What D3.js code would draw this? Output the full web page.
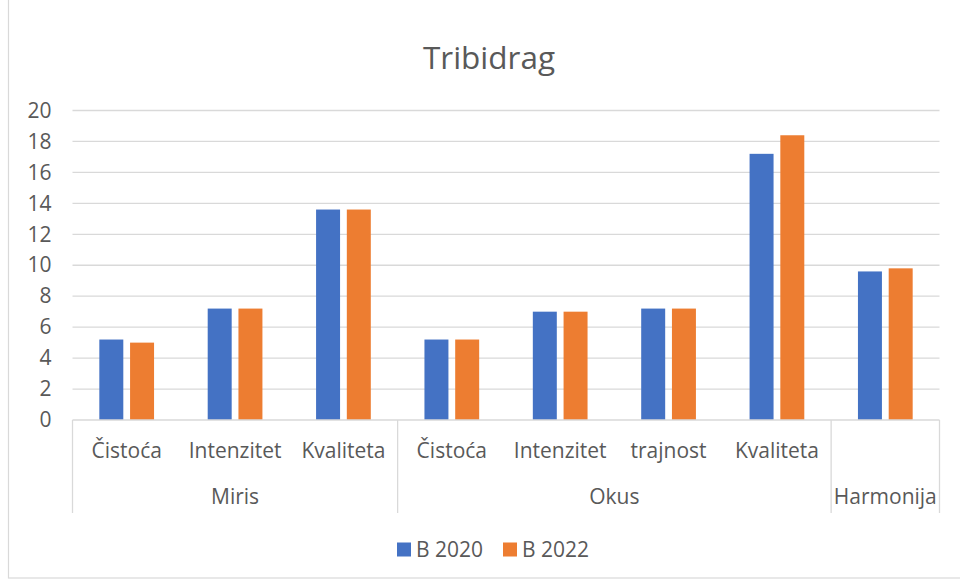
<!DOCTYPE html>
<html>
<head>
<meta charset="utf-8">
<script src="https://cdn.jsdelivr.net/npm/d3@7"></script>
<style>
  body { margin: 0; background: #fff; }
  text { font-family: "Open Sans", sans-serif; fill: #595959; }
</style>
</head>
<body>
<div id="chart"></div>
<script>
// chart values
const categories = ["Čistoća", "Intenzitet", "Kvaliteta", "Čistoća", "Intenzitet", "trajnost", "Kvaliteta", ""];
const groups = ["Miris", "Okus", "Harmonija"];
const groupSizes = [3, 4, 1];
const seriesNames = ["B 2020", "B 2022"];
const b2020 = [5.2, 7.2, 13.6, 5.2, 7.0, 7.2, 17.2, 9.6];
const b2022 = [5.0, 7.2, 13.6, 5.2, 7.0, 7.2, 18.4, 9.8];
const yTicks = [0, 2, 4, 6, 8, 10, 12, 14, 16, 18, 20];
const colors = ["#4472C4", "#ED7D31"];

const W = 960, H = 582;
const margin = {top: 110.5, right: 20.5, bottom: 162, left: 72.5};
const width = W - margin.left - margin.right;
const height = H - margin.top - margin.bottom;
const fs = 21;

const svg = d3.select("#chart").append("svg")
    .attr("width", W)
    .attr("height", H);

// outer chart border (only left and bottom show)
svg.append("rect")
    .attr("x", 8.5).attr("y", -2)
    .attr("width", W + 10).attr("height", 580)
    .attr("fill", "none")
    .attr("stroke", "#d9d9d9")
    .attr("stroke-width", 1.2);

const g = svg.append("g")
    .attr("transform", "translate(" + margin.left + "," + margin.top + ")");

// scales
const idx = d3.range(categories.length);
const x = d3.scaleBand().domain(idx).range([0, width]).padding(0);
const bw = x.bandwidth();
const pair = bw * 0.505;
const x1 = d3.scaleBand().domain(seriesNames)
    .range([(bw - pair) / 2, (bw + pair) / 2])
    .paddingInner(0.22);
const y = d3.scaleLinear().domain([0, 20]).range([height, 0]);

// gridlines
g.append("g").selectAll("line")
    .data(yTicks.filter(d => d > 0))
    .join("line")
    .attr("x1", 0).attr("x2", width)
    .attr("y1", d => y(d)).attr("y2", d => y(d))
    .attr("stroke", "#d9d9d9")
    .attr("stroke-width", 1.3);

// y axis labels
const yAxis = d3.axisLeft(y).tickValues(yTicks).tickSize(0).tickPadding(21);
g.append("g").call(yAxis)
    .call(s => s.select(".domain").remove())
    .selectAll("text")
    .attr("font-size", fs)
    .attr("fill", "#595959")
    .attr("font-family", "Open Sans");

// bars
const rows = idx.map(i => ({i: i, vals: [b2020[i], b2022[i]]}));
const cat = g.append("g").selectAll("g")
    .data(rows)
    .join("g")
    .attr("transform", d => "translate(" + x(d.i) + ",0)");
cat.selectAll("rect")
    .data(d => d.vals.map((v, k) => ({k: k, v: v})))
    .join("rect")
    .attr("x", d => x1(seriesNames[d.k]))
    .attr("y", d => y(d.v))
    .attr("width", x1.bandwidth())
    .attr("height", d => height - y(d.v))
    .attr("fill", d => colors[d.k]);

// x axis line
g.append("line")
    .attr("x1", 0).attr("x2", width)
    .attr("y1", height).attr("y2", height)
    .attr("stroke", "#d9d9d9")
    .attr("stroke-width", 1.3);

// group separators
let bounds = [0];
groupSizes.forEach((n, k) => bounds.push(bounds[k] + n));
g.append("g").selectAll("line")
    .data(bounds)
    .join("line")
    .attr("x1", d => d === categories.length ? width : x(d))
    .attr("x2", d => d === categories.length ? width : x(d))
    .attr("y1", height).attr("y2", height + 93)
    .attr("stroke", "#d9d9d9")
    .attr("stroke-width", 1.3);

// category labels
g.append("g").selectAll("text")
    .data(idx)
    .join("text")
    .attr("x", d => x(d) + bw / 2)
    .attr("y", height + 38)
    .attr("text-anchor", "middle")
    .attr("font-size", fs)
    .text(d => categories[d]);

// group labels
g.append("g").selectAll("text")
    .data(groups)
    .join("text")
    .attr("x", (d, k) => {
        const a = bounds[k] === 0 ? 0 : x(bounds[k]);
        const b = bounds[k + 1] === categories.length ? width : x(bounds[k + 1]);
        return (a + b) / 2;
    })
    .attr("y", height + 84)
    .attr("text-anchor", "middle")
    .attr("font-size", fs)
    .text(d => d);

// title
svg.append("text")
    .attr("x", 489)
    .attr("y", 69)
    .attr("text-anchor", "middle")
    .attr("font-size", 31.5)
    .text("Tribidrag");

// legend
const legend = svg.append("g").attr("transform", "translate(397,549.5)");
const items = legend.selectAll("g")
    .data(seriesNames)
    .join("g")
    .attr("transform", (d, k) => "translate(" + (k * 106) + ",0)");
items.append("rect")
    .attr("x", 0).attr("y", -7)
    .attr("width", 14).attr("height", 14)
    .attr("fill", (d, k) => colors[k]);
items.append("text")
    .attr("x", 19).attr("y", 7.5)
    .attr("font-size", fs)
    .text(d => d);
</script>
</body>
</html>
